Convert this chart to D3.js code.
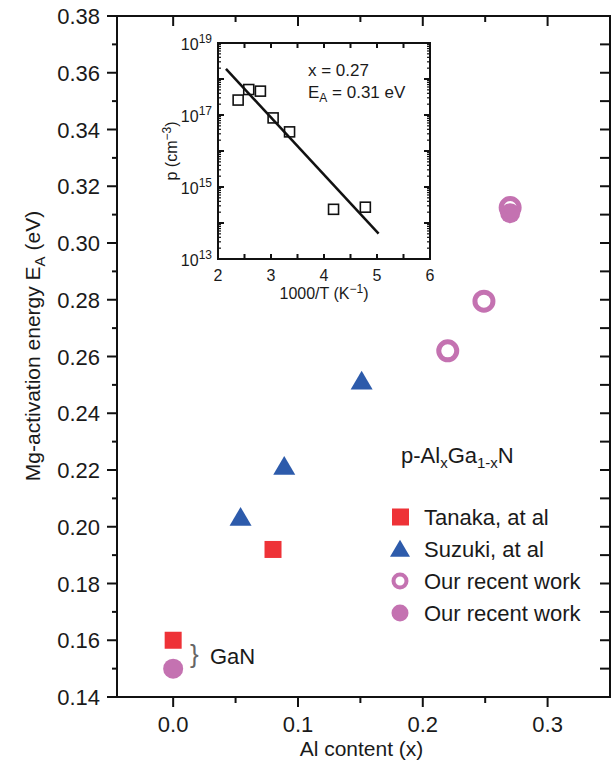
<!DOCTYPE html>
<html>
<head>
<meta charset="utf-8">
<script src="https://cdn.jsdelivr.net/npm/d3@7"></script>
<style>
  body { margin: 0; background: #fff; }
  text { font-family: "Liberation Sans", Arial, sans-serif; fill: #1a1a1a; }
</style>
</head>
<body>
<div id="chart"></div>
<script>
// main chart data: Al content x, activation energy (eV)
var tanakaX = [0.0, 0.08];
var tanakaY = [0.160, 0.192];
var suzukiX = [0.054, 0.089, 0.151];
var suzukiY = [0.203, 0.221, 0.251];
var openX = [0.22, 0.249, 0.27];
var openY = [0.262, 0.2795, 0.3125];
var filledX = [0.0, 0.27];
var filledY = [0.150, 0.3105];
var yTicks = [0.14, 0.16, 0.18, 0.20, 0.22, 0.24, 0.26, 0.28, 0.30, 0.32, 0.34, 0.36, 0.38];
var xTicks = [0.0, 0.1, 0.2, 0.3];

// inset data: 1000/T and hole concentration p
var insetT = [2.38, 2.58, 2.80, 3.04, 3.35, 4.18, 4.78];
var insetP = [2.6e17, 5.1e17, 4.6e17, 8.3e16, 3.4e16, 2.4e14, 2.75e14];
var fitT = [2.15, 5.03];
var fitP = [1.9e18, 5.1e13];
var insetXTicks = [2, 3, 4, 5, 6];
var insetYTicks = [1e13, 1e15, 1e17, 1e19];

var red = "#ee3237", blue = "#2d5bab", pink = "#c472b1";

var W = 612, H = 762;
var svg = d3.select("#chart").append("svg")
    .attr("width", W).attr("height", H);

var L = 117, R = 610, T = 16, B = 697;
var x = d3.scaleLinear().domain([-0.045, 0.35]).range([L, R]);
var y = d3.scaleLinear().domain([0.14, 0.38]).range([B, T]);

// axes frame
svg.append("rect")
    .attr("x", L).attr("y", T).attr("width", R - L).attr("height", B - T)
    .attr("fill", "none").attr("stroke", "#111").attr("stroke-width", 2);

function tickLines(g, pts, x1, y1, x2, y2) {
    g.selectAll(null).data(pts).enter().append("line")
        .attr("x1", x1).attr("y1", y1).attr("x2", x2).attr("y2", y2)
        .attr("stroke", "#111").attr("stroke-width", 2);
}

var ticksG = svg.append("g");
var yMinor = d3.range(0.15, 0.38, 0.02);
var xMinor = [0.05, 0.15, 0.25];
// left, outward
tickLines(ticksG, yTicks, L - 10, function(d){return y(d);}, L, function(d){return y(d);});
tickLines(ticksG, yMinor, L - 5, function(d){return y(d);}, L, function(d){return y(d);});
// right, inward
tickLines(ticksG, yTicks.concat(yMinor), R - 10, function(d){return y(d);}, R, function(d){return y(d);});
// bottom, outward
tickLines(ticksG, xTicks, function(d){return x(d);}, B, function(d){return x(d);}, B + 10);
tickLines(ticksG, xMinor, function(d){return x(d);}, B, function(d){return x(d);}, B + 6);
// top, inward
tickLines(ticksG, xTicks, function(d){return x(d);}, T, function(d){return x(d);}, T + 10);
tickLines(ticksG, xMinor, function(d){return x(d);}, T, function(d){return x(d);}, T + 6);

svg.append("g").selectAll("text").data(yTicks).enter().append("text")
    .attr("x", 100).attr("y", function(d){return y(d) + 8;})
    .attr("text-anchor", "end").attr("font-size", 22)
    .text(function(d){return d3.format(".2f")(d);});

svg.append("g").selectAll("text").data(xTicks).enter().append("text")
    .attr("x", function(d){return x(d);}).attr("y", 732)
    .attr("text-anchor", "middle").attr("font-size", 22)
    .text(function(d){return d3.format(".1f")(d);});

svg.append("text").attr("x", (L + R) / 2 - 2).attr("y", 756)
    .attr("text-anchor", "middle").attr("font-size", 21)
    .text("Al content (x)");

var yt = svg.append("text")
    .attr("transform", "translate(40,346) rotate(-90)")
    .attr("text-anchor", "middle").attr("font-size", 21);
yt.append("tspan").text("Mg-activation energy E");
yt.append("tspan").attr("font-size", 15).attr("dy", 5).text("A");
yt.append("tspan").attr("dy", -5).text(" (eV)");

// markers
function triPath(cx, cy, s) {
    var h = s * 0.85;
    return "M" + cx + "," + (cy - h * 0.6) + "L" + (cx + s / 2) + "," + (cy + h * 0.4) +
        "L" + (cx - s / 2) + "," + (cy + h * 0.4) + "Z";
}

svg.append("g").selectAll("rect").data(tanakaX).enter().append("rect")
    .attr("x", function(d){return x(d) - 8.5;})
    .attr("y", function(d, i){return y(tanakaY[i]) - 8.5;})
    .attr("width", 17).attr("height", 17).attr("fill", red);

svg.append("g").selectAll("path").data(suzukiX).enter().append("path")
    .attr("d", function(d, i){return triPath(x(d), y(suzukiY[i]), 22);})
    .attr("fill", blue);

svg.append("g").selectAll("circle").data(filledX).enter().append("circle")
    .attr("cx", function(d){return x(d);})
    .attr("cy", function(d, i){return y(filledY[i]);})
    .attr("r", 10).attr("fill", pink);

svg.append("g").selectAll("circle").data(openX).enter().append("circle")
    .attr("cx", function(d){return x(d);})
    .attr("cy", function(d, i){return y(openY[i]);})
    .attr("r", 9).attr("fill", "none").attr("stroke", pink).attr("stroke-width", 5);

// GaN note
svg.append("text").attr("x", 190).attr("y", 663).attr("font-size", 26)
    .attr("font-weight", 300).style("fill", "#666").text("}");
svg.append("text").attr("x", 210).attr("y", 664).attr("font-size", 22).text("GaN");

// legend
var lt = svg.append("text").attr("x", 401).attr("y", 463).attr("font-size", 22);
lt.append("tspan").text("p-Al");
lt.append("tspan").attr("font-size", 15).attr("dy", 5).text("x");
lt.append("tspan").attr("dy", -5).text("Ga");
lt.append("tspan").attr("font-size", 15).attr("dy", 5).text("1-x");
lt.append("tspan").attr("dy", -5).text("N");

var legendNames = ["Tanaka, at al", "Suzuki, at al", "Our recent work", "Our recent work"];
var lg = svg.append("g");
var ly0 = 517, lstep = 32;
lg.append("rect").attr("x", 392).attr("y", ly0 - 8.5).attr("width", 17).attr("height", 17).attr("fill", red);
lg.append("path").attr("d", triPath(400, ly0 + lstep + 1, 20)).attr("fill", blue);
lg.append("circle").attr("cx", 400).attr("cy", ly0 + 2 * lstep).attr("r", 6.5)
    .attr("fill", "none").attr("stroke", pink).attr("stroke-width", 4);
lg.append("circle").attr("cx", 400).attr("cy", ly0 + 3 * lstep).attr("r", 8.5).attr("fill", pink);
lg.selectAll("text").data(legendNames).enter().append("text")
    .attr("x", 424).attr("y", function(d, i){return ly0 + 8 + i * lstep;})
    .attr("font-size", 22).text(function(d){return d;});

// inset
var iL = 218, iR = 430, iT = 43, iB = 259;
var ix = d3.scaleLinear().domain([2, 6]).range([iL, iR]);
var iy = d3.scaleLog().domain([1e13, 1e19]).range([iB, iT]);
var ins = svg.append("g");
ins.append("rect").attr("x", iL).attr("y", iT).attr("width", iR - iL).attr("height", iB - iT)
    .attr("fill", "#fff").attr("stroke", "#111").attr("stroke-width", 2);

var ixMinor = [2.5, 3.5, 4.5, 5.5];
tickLines(ins, insetXTicks.concat(ixMinor), function(d){return ix(d);}, iB, function(d){return ix(d);}, iB - 5);
tickLines(ins, insetXTicks.concat(ixMinor), function(d){return ix(d);}, iT, function(d){return ix(d);}, iT + 5);
var iyMajor = d3.range(13, 20).map(function(e){return Math.pow(10, e);});
var iyMinor = [];
d3.range(13, 19).forEach(function(e){
    for (var k = 2; k <= 9; k++) iyMinor.push(k * Math.pow(10, e));
});
tickLines(ins, iyMajor, iL, function(d){return iy(d);}, iL + 6, function(d){return iy(d);});
tickLines(ins, iyMajor, iR - 6, function(d){return iy(d);}, iR, function(d){return iy(d);});
ins.selectAll(null).data(iyMinor).enter().append("line")
    .attr("x1", iL).attr("x2", iL + 3)
    .attr("y1", function(d){return iy(d);}).attr("y2", function(d){return iy(d);})
    .attr("stroke", "#111").attr("stroke-width", 1.2);
ins.selectAll(null).data(iyMinor).enter().append("line")
    .attr("x1", iR - 3).attr("x2", iR)
    .attr("y1", function(d){return iy(d);}).attr("y2", function(d){return iy(d);})
    .attr("stroke", "#111").attr("stroke-width", 1.2);

ins.selectAll("text.xt").data(insetXTicks).enter().append("text")
    .attr("x", function(d){return ix(d);}).attr("y", 281)
    .attr("text-anchor", "middle").attr("font-size", 16)
    .text(function(d){return d;});

var iyl = ins.selectAll("text.yt").data(insetYTicks).enter().append("text")
    .attr("x", 212).attr("y", function(d){return iy(d) + 7;})
    .attr("text-anchor", "end").attr("font-size", 16);
iyl.append("tspan").text("10");
iyl.append("tspan").attr("font-size", 12).attr("dy", -7)
    .text(function(d){return Math.round(Math.log10(d));});

var ixt = ins.append("text").attr("x", 324).attr("y", 299)
    .attr("text-anchor", "middle").attr("font-size", 16);
ixt.append("tspan").text("1000/T (K");
ixt.append("tspan").attr("font-size", 12).attr("dy", -6).text("\u22121");
ixt.append("tspan").attr("dy", 6).text(")");

var iyt = ins.append("text").attr("transform", "translate(177,151) rotate(-90)")
    .attr("text-anchor", "middle").attr("font-size", 16);
iyt.append("tspan").text("p (cm");
iyt.append("tspan").attr("font-size", 12).attr("dy", -6).text("\u22123");
iyt.append("tspan").attr("dy", 6).text(")");

ins.append("line")
    .attr("x1", ix(fitT[0])).attr("y1", iy(fitP[0]))
    .attr("x2", ix(fitT[1])).attr("y2", iy(fitP[1]))
    .attr("stroke", "#111").attr("stroke-width", 2.5);

ins.selectAll("rect.pt").data(insetT).enter().append("rect")
    .attr("x", function(d){return ix(d) - 5;})
    .attr("y", function(d, i){return iy(insetP[i]) - 5;})
    .attr("width", 10).attr("height", 10)
    .attr("fill", "none").attr("stroke", "#111").attr("stroke-width", 1.6);

ins.append("text").attr("x", 308).attr("y", 76).attr("font-size", 17).text("x = 0.27");
var ea = ins.append("text").attr("x", 308).attr("y", 98).attr("font-size", 17);
ea.append("tspan").text("E");
ea.append("tspan").attr("font-size", 12).attr("dy", 4).text("A");
ea.append("tspan").attr("dy", -4).text(" = 0.31 eV");
</script>
</body>
</html>
